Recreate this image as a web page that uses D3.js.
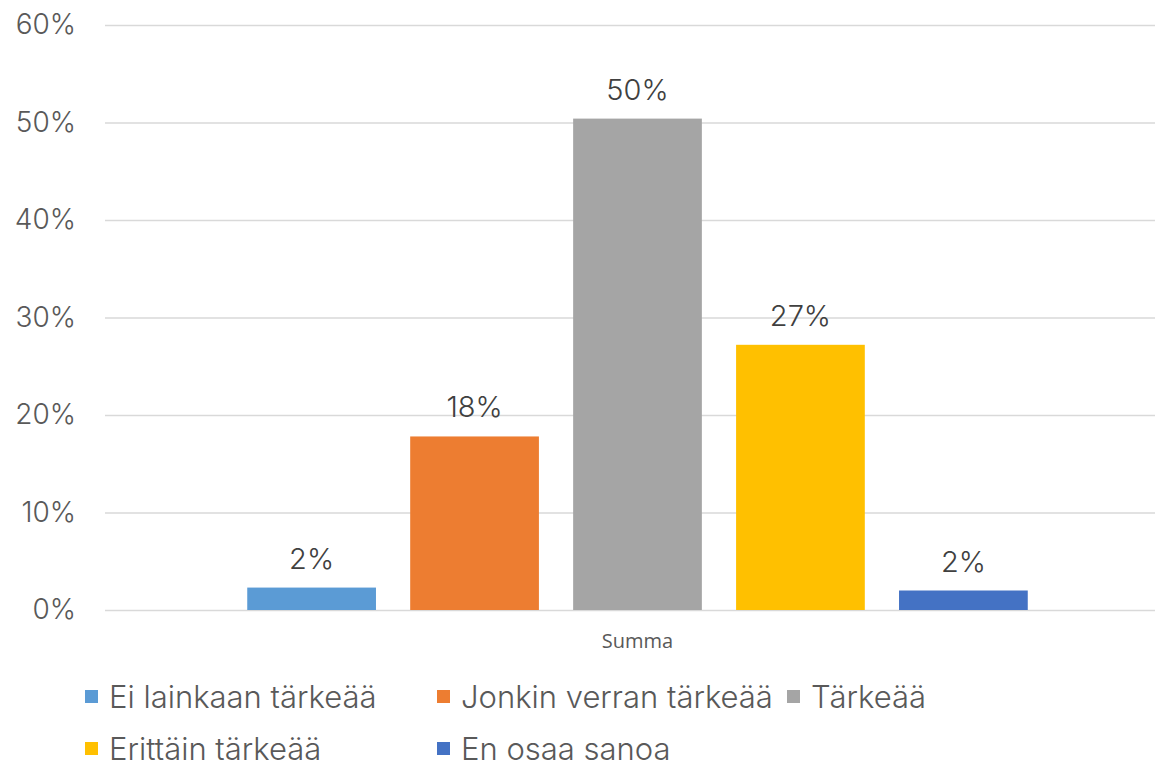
<!DOCTYPE html>
<html>
<head>
<meta charset="utf-8">
<script src="https://cdn.jsdelivr.net/npm/d3@7"></script>
<style>
  body { margin: 0; background: #fff; }
  svg { display: block; }
</style>
</head>
<body>
<div id="chart"></div>
<script>
const width = 1155;
const height = 766;

const categories = ["Summa"];
const series = ["Ei lainkaan tärkeää", "Jonkin verran tärkeää", "Tärkeää", "Erittäin tärkeää", "En osaa sanoa"];
const values = [0.023, 0.178, 0.504, 0.272, 0.02];
const colors = ["#5b9bd5", "#ed7d31", "#a5a5a5", "#ffc000", "#4472c4"];
const yTicks = [0, 0.1, 0.2, 0.3, 0.4, 0.5, 0.6];

const font = "Inter, 'Noto Sans', sans-serif";

const svg = d3.select("#chart")
  .append("svg")
  .attr("width", width)
  .attr("height", height);

const x0 = d3.scaleBand().domain(categories).range([105, 1170]);
const y = d3.scaleLinear().domain([0, 0.6]).range([610, 25]);

// gridlines + y labels
const yAxis = svg.append("g")
  .attr("transform", "translate(105,0)")
  .call(d3.axisLeft(y).tickValues(yTicks).tickFormat(d3.format(".0%")).tickSize(-1050).tickPadding(29));
yAxis.select(".domain").remove();
yAxis.selectAll(".tick line").attr("stroke", "#d9d9d9").attr("stroke-width", 1.5);
yAxis.selectAll(".tick text")
  .attr("fill", "#595959")
  .style("font-family", font)
  .style("font-weight", 300)
  .style("font-size", "28px");

const g = svg.append("g");
categories.forEach((cat) => {
  const center = x0(cat) + x0.bandwidth() / 2;
  const gw = x0.bandwidth() * 0.765;
  const x1 = d3.scaleBand().domain(series)
    .range([center - gw / 2, center + gw / 2])
    .paddingInner(0.21)
    .paddingOuter(0.105);

  g.selectAll("rect.bar")
    .data(series)
    .join("rect")
    .attr("class", "bar")
    .attr("x", (d) => x1(d))
    .attr("width", x1.bandwidth())
    .attr("y", (d, i) => y(values[i]))
    .attr("height", (d, i) => y(0) - y(values[i]))
    .attr("fill", (d, i) => colors[i]);

  g.selectAll("text.lbl")
    .data(series)
    .join("text")
    .attr("class", "lbl")
    .attr("x", (d) => x1(d) + x1.bandwidth() / 2)
    .attr("y", (d, i) => y(values[i]) - 19)
    .attr("text-anchor", "middle")
    .attr("fill", "#404040")
    .style("font-family", font)
    .style("font-weight", 300)
    .style("font-size", "29px")
    .text((d, i) => d3.format(".0%")(values[i]));

  g.append("text")
    .attr("x", center)
    .attr("y", 648)
    .attr("text-anchor", "middle")
    .attr("fill", "#595959")
    .style("font-family", "'Open Sans', sans-serif")
    .style("font-size", "20px")
    .text(cat);
});

// legend
const legendPos = [[85, 690], [437, 690], [787, 690], [85, 742], [437, 742]];
const leg = svg.append("g").selectAll("g")
  .data(series)
  .join("g")
  .attr("transform", (d, i) => `translate(${legendPos[i][0]},${legendPos[i][1]})`);
leg.append("rect")
  .attr("width", 13)
  .attr("height", 13)
  .attr("fill", (d, i) => colors[i]);
leg.append("text")
  .attr("x", 24)
  .attr("y", 18)
  .attr("fill", "#595959")
  .style("font-family", font)
  .style("font-weight", 300)
  .style("font-size", "31px")
  .text((d) => d);
</script>
</body>
</html>
